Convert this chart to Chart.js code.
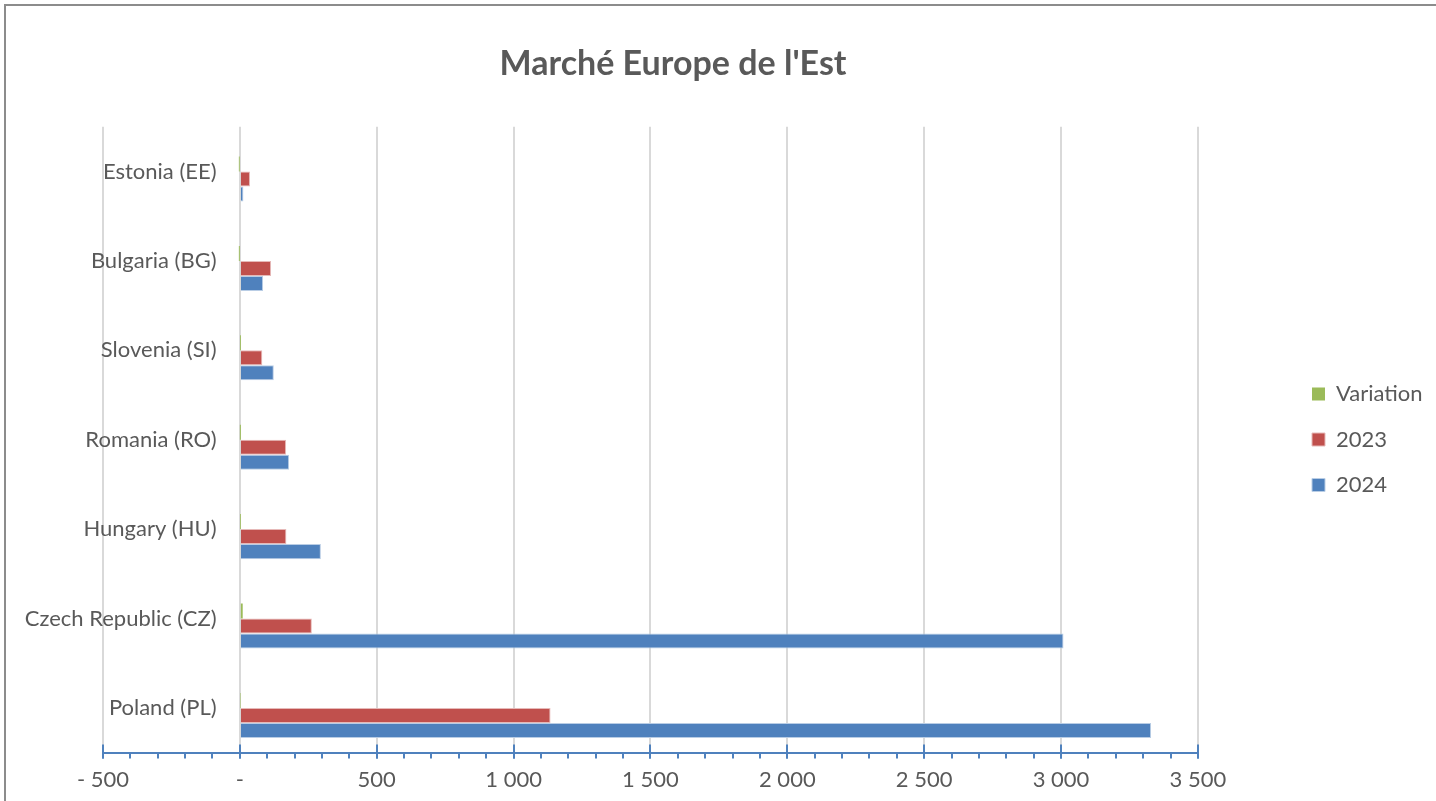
<!DOCTYPE html>
<html>
<head>
<meta charset="utf-8">
<title>Marché Europe de l'Est</title>
<script src="https://cdn.jsdelivr.net/npm/chart.js@4.4.0/dist/chart.umd.min.js"></script>
<style>
  html, body { margin: 0; padding: 0; background: #fff; }
  #wrap { position: relative; width: 1436px; height: 801px; overflow: hidden; }
  #frame { position: absolute; left: 4px; top: 4px; width: 1500px; height: 900px;
           border-left: 2px solid #8c8c8c; border-top: 2px solid #8c8c8c; }
  canvas { position: absolute; left: 0; top: 0; }
</style>
</head>
<body>
<div id="wrap">
  <div id="frame"></div>
  <canvas id="chart" width="1436" height="801"></canvas>
</div>
<script>
// categories listed top to bottom, as shown
const categories = ['Estonia (EE)', 'Bulgaria (BG)', 'Slovenia (SI)', 'Romania (RO)',
  'Hungary (HU)', 'Czech Republic (CZ)', 'Poland (PL)']
const values2024 = [13, 85, 124, 180, 296, 3009, 3329]
const values2023 = [37, 114, 82, 169, 170, 263, 1135]
const variation = [-0.65, -0.25, 0.51, 0.07, 0.74, 10.4, 1.93]

const xMin = -500
const xMax = 3500
const majorStep = 500
const minorStep = 100
// category labels are anchored a little left of zero (the axis crosses at 0)
const labelAnchor = -85

const textGrey = '#595959'
const axisBlue = '#4f81bd'

// where the title and legend sit in the picture
const titleCenterX = 673
const legendBoxX = 1312
const legendFirstY = 383

function formatTick(v) {
  if (v === 0) return '-'
  const s = Math.abs(v).toLocaleString('fr-FR').replace(/[\u202f\u00a0]/g, ' ')
  return v < 0 ? '- ' + s : s
}

function isMajor(v) {
  return Math.round(v) % majorStep === 0
}

// move title and legend to their spots once the plot area is laid out
const placeBoxes = {
  id: 'placeBoxes',
  afterLayout(chart) {
    const t = chart.titleBlock
    if (t) {
      const dx = titleCenterX - (t.left + t.right) / 2
      t.left += dx
      t.right += dx
    }
    const lg = chart.legend
    if (lg) {
      const pad = lg.options.labels.padding
      const dx = legendBoxX - (lg.left + pad)
      lg.left += dx
      lg.right += dx
      if (lg.columnSizes && lg.columnSizes[0]) {
        const y0 = (lg.top + pad + lg.bottom - lg.columnSizes[0].height) / 2
        const dy = legendFirstY - y0
        lg.top += dy
        lg.bottom += dy
      }
    }
  }
}

// long ticks crossing the axis line at every major value
const majorTicks = {
  id: 'majorTicks',
  afterDraw(chart) {
    const x = chart.scales.x
    const ctx = chart.ctx
    ctx.save()
    ctx.strokeStyle = axisBlue
    ctx.lineWidth = 2
    for (let v = xMin; v <= xMax; v += majorStep) {
      const px = Math.round(x.getPixelForValue(v))
      ctx.beginPath()
      ctx.moveTo(px, x.top - 8)
      ctx.lineTo(px, x.top + 6)
      ctx.stroke()
    }
    ctx.restore()
  }
}

Chart.defaults.font.family = 'Lato, "Open Sans", sans-serif'
Chart.defaults.color = textGrey

new Chart(document.getElementById('chart'), {
  type: 'bar',
  data: {
    labels: categories,
    datasets: [
      { label: '', data: [] },
      { label: 'Variation', data: variation, backgroundColor: '#9bbb59', borderWidth: 0 },
      { label: '2023', data: values2023, backgroundColor: '#c0504d', borderColor: '#e6b9b8', borderWidth: 1 },
      { label: '2024', data: values2024, backgroundColor: '#4f81bd', borderColor: '#b9cde5', borderWidth: 1 }
    ]
  },
  options: {
    indexAxis: 'y',
    responsive: false,
    animation: false,
    categoryPercentage: 0.672,
    barPercentage: 1.0,
    layout: { padding: { left: 103, right: 94, top: 0, bottom: 0 } },
    plugins: {
      title: {
        display: true,
        text: "Marché Europe de l'Est",
        color: textGrey,
        font: { size: 34, weight: 'bold' },
        padding: { top: 44, bottom: 42 }
      },
      legend: {
        position: 'right',
        labels: {
          boxWidth: 13,
          boxHeight: 13,
          padding: 23.5,
          color: textGrey,
          font: { size: 22 },
          filter: item => item.text !== ''
        }
      },
      tooltip: { enabled: false }
    },
    scales: {
      x: {
        type: 'linear',
        min: xMin,
        max: xMax,
        grid: {
          color: ctx => isMajor(ctx.tick.value) ? '#d9d9d9' : 'rgba(0,0,0,0)',
          lineWidth: 2,
          tickColor: axisBlue,
          tickLength: 6
        },
        border: { display: true, color: axisBlue, width: 2 },
        ticks: {
          stepSize: minorStep,
          autoSkip: false,
          maxRotation: 0,
          padding: 8,
          color: textGrey,
          font: { size: 22 },
          callback: value => isMajor(value) ? formatTick(value) : ''
        }
      },
      y: {
        position: { x: labelAnchor },
        grid: { display: false, drawTicks: false },
        border: { display: false },
        ticks: {
          color: textGrey,
          font: { size: 22 }
        }
      }
    }
  },
  plugins: [placeBoxes, majorTicks]
})
</script>
</body>
</html>
